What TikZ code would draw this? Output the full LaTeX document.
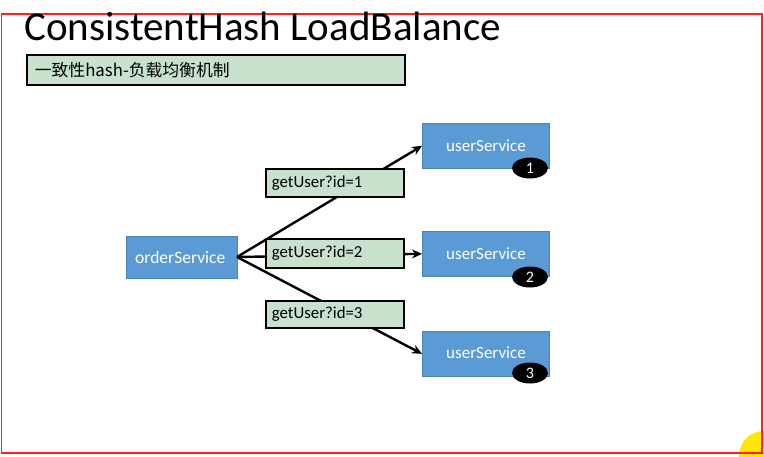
\documentclass[tikz,border=0pt]{standalone}
\usepackage{fontspec}
\setmainfont{Carlito}
\newfontfamily\cjk{Noto Sans CJK SC}
\usetikzlibrary{arrows.meta,shapes.geometric}
\definecolor{svcblue}{HTML}{5B9BD5}
\definecolor{lblgreen}{HTML}{C8E2CE}
\definecolor{framered}{HTML}{FF2020}
\definecolor{sunyellow}{HTML}{FFE600}
\tikzset{
  svc/.style={draw=svcblue!85!black, line width=0.6pt, fill=svcblue, text=white, font=\fontsize{17.5}{19}\selectfont, inner sep=0pt, anchor=north west},
  svctext/.style={white, font=\fontsize{17}{19}\selectfont},
  lbl/.style={draw=black, line width=1.8pt, fill=lblgreen, font=\fontsize{16.8}{19}\selectfont, inner sep=0pt, anchor=north west, align=left},
  badge/.style={ellipse, fill=black, text=white, font=\fontsize{16}{18}\selectfont, minimum width=36pt, minimum height=21pt, inner sep=0pt},
  flow/.style={line width=2.4pt, -{Stealth[length=10pt,width=9pt]}},
}
\begin{document}
\begin{tikzpicture}[x=1pt,y=-1pt]
\useasboundingbox (0,0) rectangle (764,456);
\begin{scope}
\clip (0,0) rectangle (764,456);
\fill[sunyellow] (764,456) circle (25);
\end{scope}
\draw[framered, line width=1.6pt] (1.5,14) rectangle (762,453);
\node[anchor=base west, inner sep=0pt, font=\fontsize{41}{44}\selectfont] (title) at (24,40) {ConsistentHash LoadBalance};
\node[lbl, minimum width=378pt, minimum height=30pt, text width=364pt, font=\cjk\fontsize{16.8}{19}\selectfont] (sub) at (26,54) {\hspace*{1pt}一致性hash-负载均衡机制};
\begin{scope}
\node[svc, minimum width=111pt, minimum height=42pt] (order) at (126,236) {};
\clip (order.south west) rectangle (order.north east);
\node[anchor=west, inner sep=0pt, white, font=\fontsize{17.5}{19}\selectfont] (ot) at (135,257) {orderService};
\end{scope}
\node[svc, minimum width=127pt, minimum height=45pt] (us1) at (422,123) {};
\node[svc, minimum width=127pt, minimum height=45pt] (us2) at (422,231) {};
\node[svc, minimum width=127pt, minimum height=45pt] (us3) at (422,331) {};
\node[svctext] (t1) at (486,146) {userService};
\node[svctext] (t2) at (486,254) {userService};
\node[svctext] (t3) at (486,353) {userService};
\node[badge] (b1) at (530,168) {1};
\node[badge] (b2) at (530,277) {2};
\node[badge] (b3) at (530,373) {3};
\coordinate (src) at (237,257);
\draw[flow] (src) -- (us1.west);
\draw[flow] (src) -- (us2.west);
\draw[flow] (src) -- (us3.west);
\node[lbl, minimum width=138pt, minimum height=28pt, text width=126pt] (l1) at (265,168) {getUser?id=1};
\node[lbl, minimum width=138pt, minimum height=29pt, text width=126pt] (l2) at (265,238) {getUser?id=2};
\node[lbl, minimum width=138pt, minimum height=27pt, text width=126pt] (l3) at (265,300) {getUser?id=3};
\end{tikzpicture}
\end{document}
